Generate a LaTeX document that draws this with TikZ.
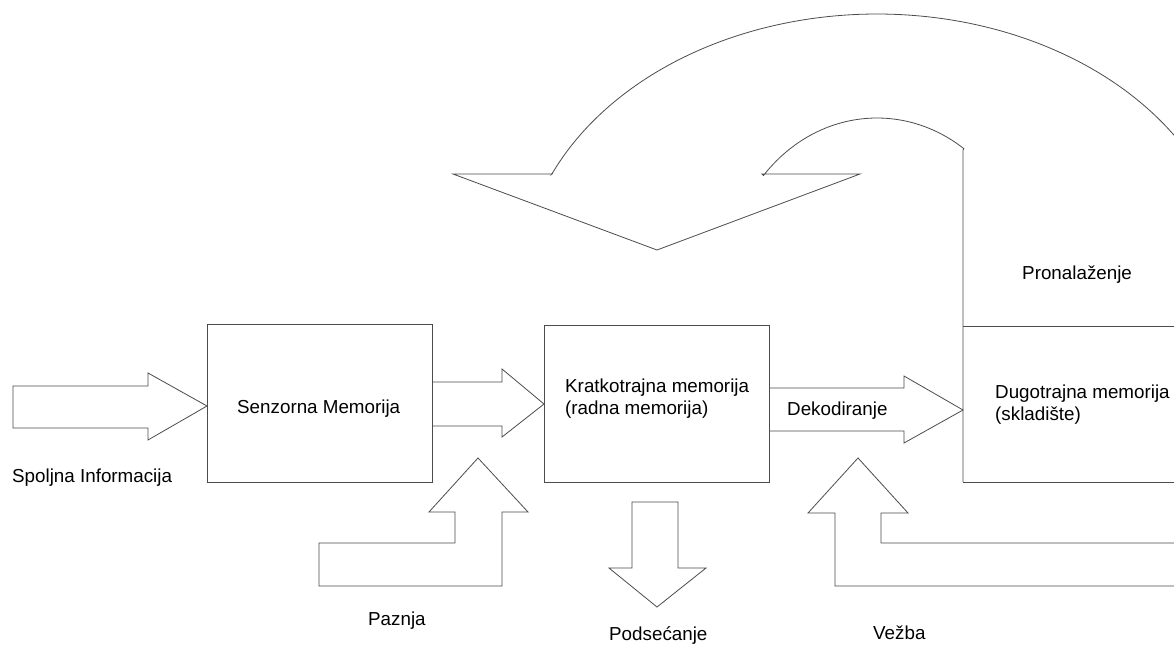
\documentclass[tikz,border=0pt]{standalone}
\usepackage{fontspec}
\setmainfont{Liberation Sans}
\begin{document}
\begin{tikzpicture}[x=1pt,y=-1pt, line join=miter,
  shp/.style={draw=black!70, line width=0.8pt},
  box/.style={draw=black!70, line width=0.8pt, rectangle, inner sep=0pt},
  lbl/.style={anchor=west, inner sep=0pt, font=\fontsize{18.8}{22}\selectfont, text=black, align=left}]
\path[use as bounding box] (0,0) rectangle (1174,645);
\fill[white] (0,0) rectangle (1174,645);
\clip (0,0) rectangle (1174,645);

% boxes
\node[box, minimum width=225pt, minimum height=158pt] (senz) at (319.5,403) {};
\node[box, minimum width=225pt, minimum height=157pt] (kratko) at (656.5,403.5) {};
\coordinate (dugoTL) at (963,326);
\coordinate (dugoBL) at (963,482);
\draw[shp] (1180,326) -- (dugoTL);
\draw[shp] (1180,482) -- (dugoBL);

% straight block arrows
\draw[shp] (13,386) -- (148,386) -- (148,373) -- (207,406) -- (148,440) -- (148,428) -- (13,428) -- cycle;
\draw[shp] (432,382) -- (502,382) -- (502,369) -- (544,404) -- (502,437) -- (502,426) -- (432,426);
\draw[shp] (769,388) -- (904,388) -- (904,376) -- (963,410) -- (904,443) -- (904,431) -- (769,431);

% Paznja arrow
\draw[shp] (319,586) -- (502,586) -- (502,512) -- (528,512) -- (478,458) -- (429,512) -- (455,512) -- (455,543) -- (319,543) -- cycle;
% Vezba arrow
\draw[shp] (1180,586) -- (835,586) -- (835,513) -- (808,513) -- (858,458) -- (908,513) -- (881,513) -- (881,543) -- (1180,543);
% Podsecanje arrow
\draw[shp] (632,502) -- (678,502) -- (678,568) -- (706,568) -- (657,607) -- (609,568) -- (632,568) -- cycle;

% curved arrow (Pronalazenje)
\draw[shp] (dugoBL) -- (963,150)
  -- plot[domain=-54.6:-139.2, samples=60] ({877+150*cos(\x)},{284+166*sin(\x)})
  -- (762,174) -- (860,174) -- (657,250) -- (453,174) -- (552,174)
  -- plot[domain=-156:-20, samples=100] ({877+356*cos(\x)},{284+270*sin(\x)});

% labels
\node[lbl] (spolj) at (12,478) {Spoljna Informacija};
\node[lbl] (senzt) at (237,409) {Senzorna Memorija};
\node[lbl] (kratt) at (565,399) {Kratkotrajna memorija\\(radna memorija)};
\node[lbl] (dekod) at (787,411) {Dekodiranje};
\node[lbl] (dugot) at (995,405) {Dugotrajna memorija\\(skladište)};
\node[lbl] (prona) at (1022,275) {Pronalaženje};
\node[lbl] (paznja) at (368,621) {Paznja};
\node[lbl] (podse) at (609,635.5) {Podsećanje};
\node[lbl] (vezba) at (873,633) {Vežba};
\end{tikzpicture}
\end{document}
